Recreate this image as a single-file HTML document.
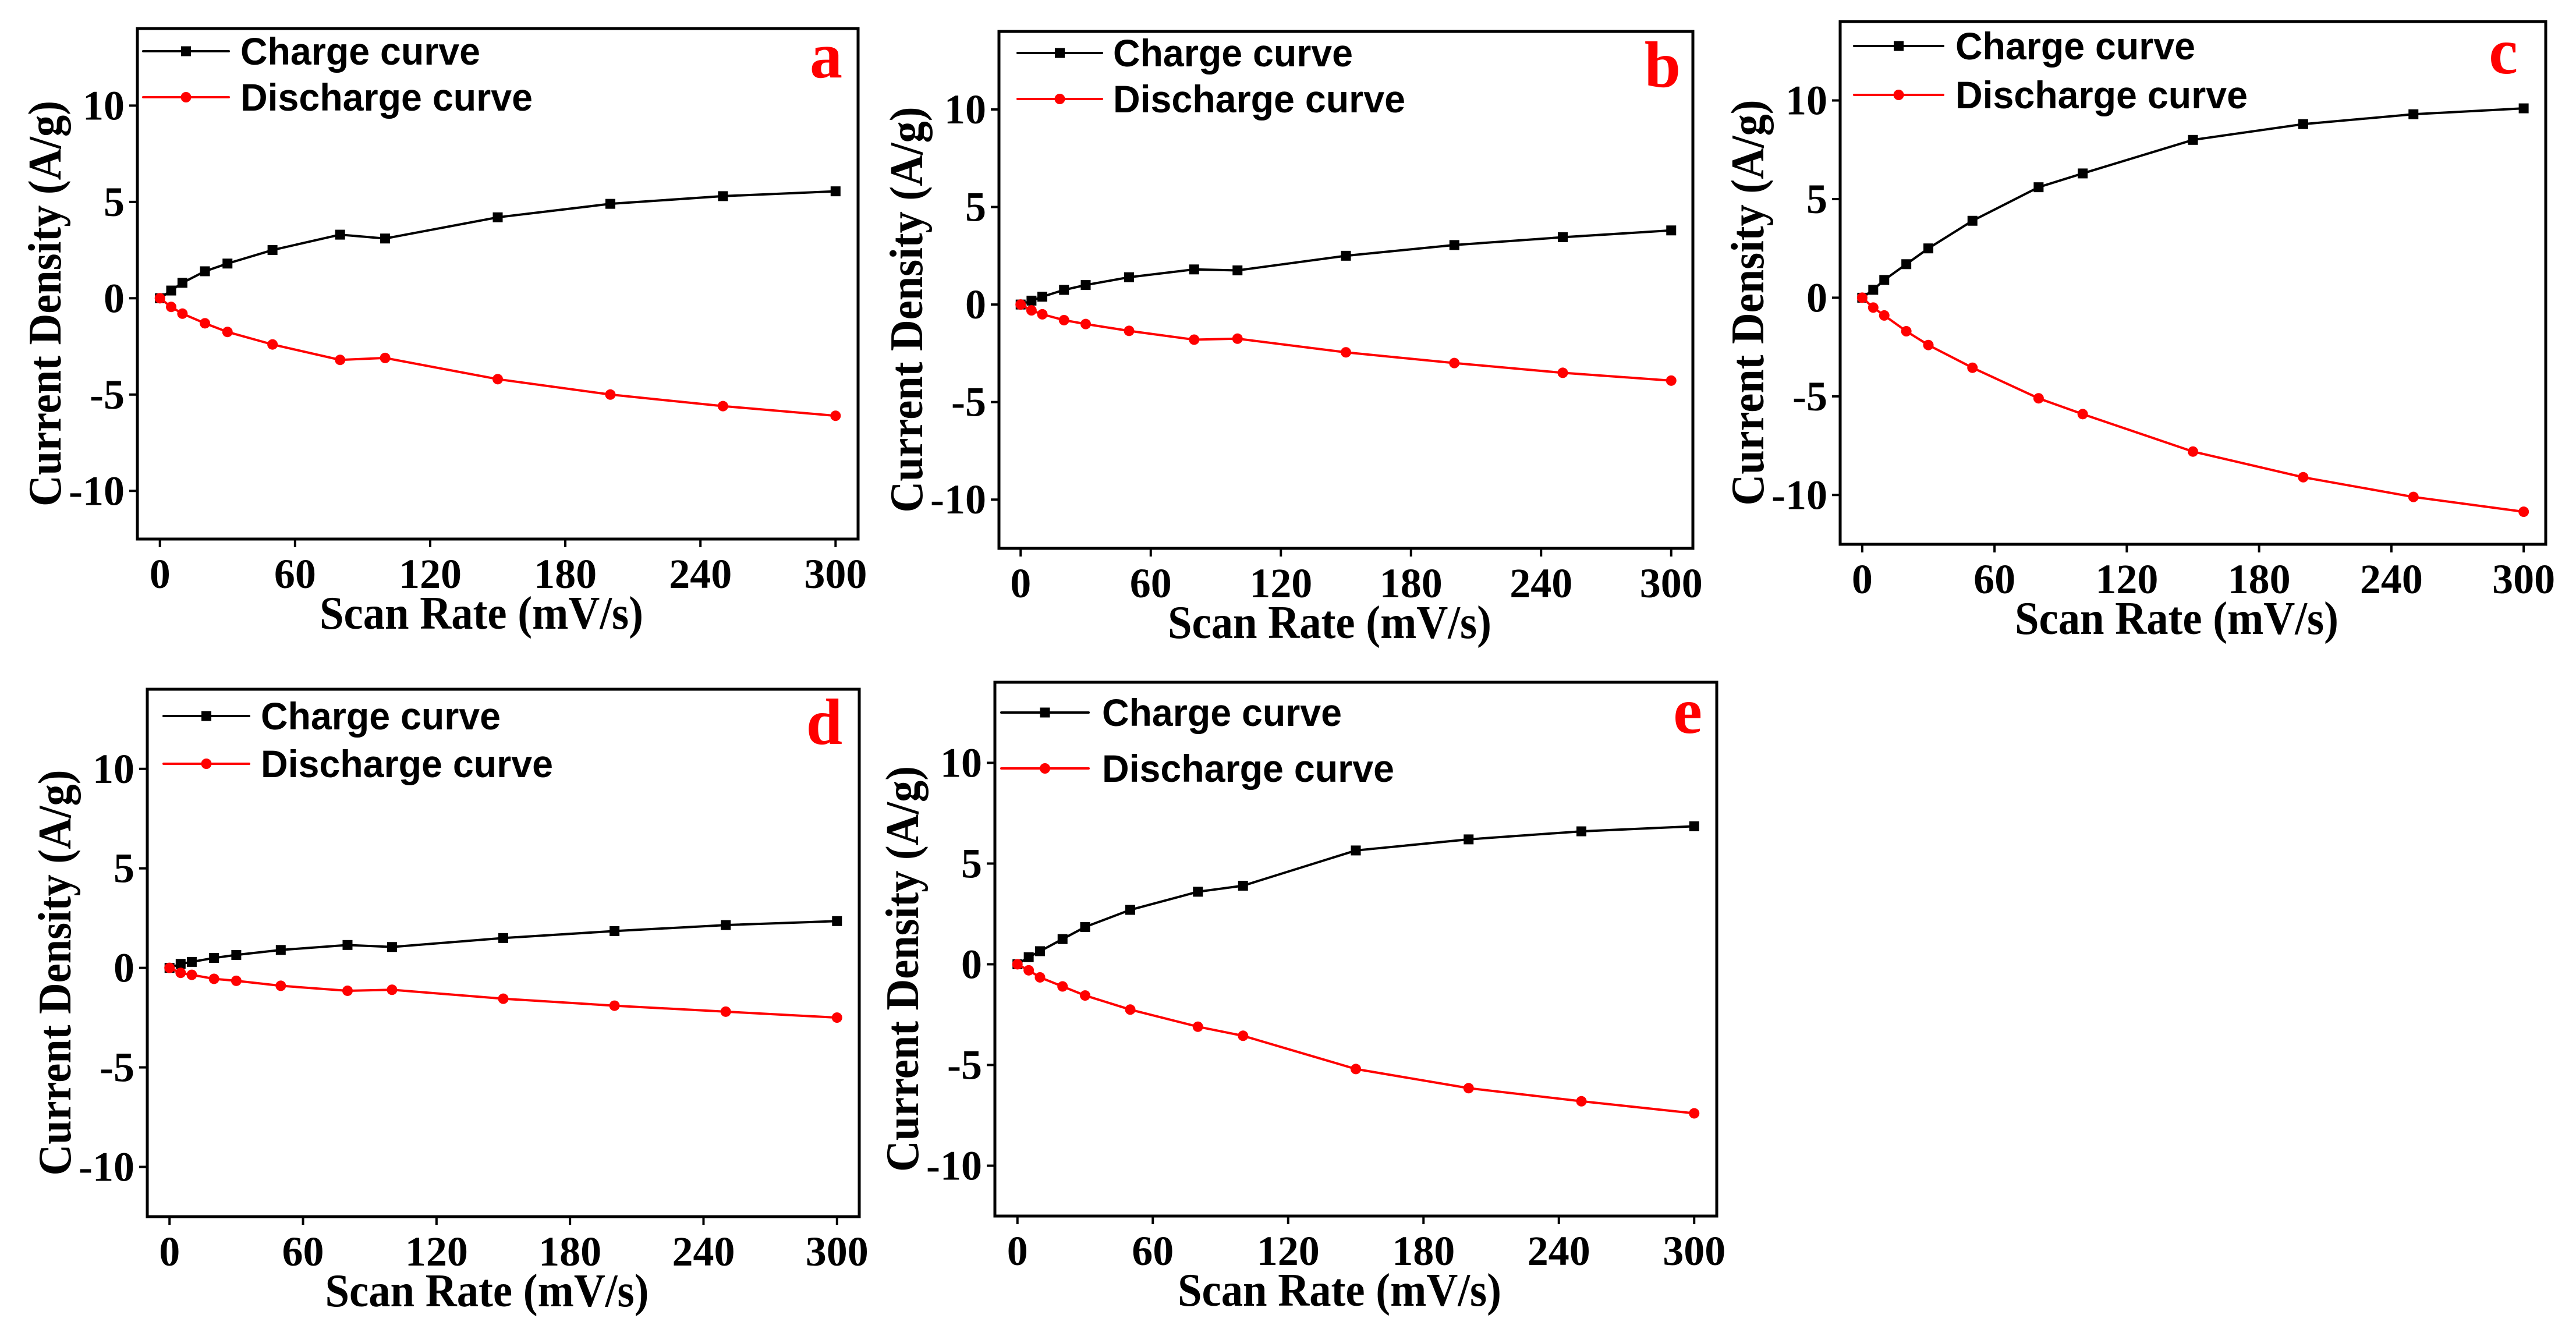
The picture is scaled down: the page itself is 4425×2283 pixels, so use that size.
<!DOCTYPE html>
<html><head><meta charset="utf-8">
<style>
html,body{margin:0;padding:0;background:#fff;}
svg{display:block;}
.tick{font-family:"Liberation Serif",serif;font-weight:bold;font-size:72px;fill:#000;}
.title{font-family:"Liberation Serif",serif;font-weight:bold;font-size:80px;fill:#000;}
.leg{font-family:"Liberation Sans Narrow","Liberation Sans",sans-serif;font-weight:bold;font-size:66px;fill:#000;}
.plab{font-family:"Liberation Serif",serif;font-weight:bold;font-size:112px;fill:#ff0000;}
</style></head>
<body>
<svg id="fig" width="4425" height="2283" viewBox="0 0 4425 2283" xmlns="http://www.w3.org/2000/svg"></svg>
<script>
const scanRates = [0,5,10,20,30,50,80,100,150,200,250,300];
const xTicks = [0,60,120,180,240,300];
const yTicks = [10,5,0,-5,-10];
const chargeA = [0,0.4,0.8,1.4,1.8,2.5,3.3,3.1,4.2,4.9,5.3,5.55];
const dischargeA = [0,-0.45,-0.8,-1.3,-1.75,-2.4,-3.2,-3.1,-4.2,-5.0,-5.6,-6.1];
const chargeB = [0,0.2,0.4,0.75,1.0,1.4,1.8,1.75,2.5,3.05,3.45,3.8];
const dischargeB = [0,-0.3,-0.5,-0.8,-1.0,-1.35,-1.8,-1.75,-2.45,-3.0,-3.5,-3.9];
const chargeC = [0,0.4,0.9,1.7,2.5,3.9,5.6,6.3,8.0,8.8,9.3,9.6];
const dischargeC = [0,-0.5,-0.9,-1.7,-2.4,-3.55,-5.1,-5.9,-7.8,-9.1,-10.1,-10.85];
const chargeD = [0,0.2,0.3,0.5,0.65,0.9,1.15,1.05,1.5,1.85,2.15,2.35];
const dischargeD = [0,-0.25,-0.35,-0.55,-0.65,-0.9,-1.15,-1.1,-1.55,-1.9,-2.2,-2.5];
const chargeE = [0,0.35,0.65,1.25,1.85,2.7,3.6,3.9,5.65,6.2,6.6,6.85];
const dischargeE = [0,-0.3,-0.65,-1.1,-1.55,-2.25,-3.1,-3.55,-5.2,-6.15,-6.8,-7.4];
const panelLetters = ['a','b','c','d','e'];

const NS='http://www.w3.org/2000/svg';
const svg=document.getElementById('fig');
function mk(tag,attrs,parent){const e=document.createElementNS(NS,tag);for(const k in attrs)e.setAttribute(k,attrs[k]);(parent||svg).appendChild(e);return e;}

const layouts=[
 {l:236,t:49,r:1474,b:926, leg:[246,393,413,88,167], lab:[1447,133]},
 {l:1716,t:54,r:2908,b:942, leg:[1748,1893,1912,91,170], lab:[2887,149]},
 {l:3161,t:37,r:4373,b:935, leg:[3185,3338,3359,79,163], lab:[4325,126]},
 {l:253,t:1184,r:1476,b:2090, leg:[281,428,448,1230,1312], lab:[1447,1278]},
 {l:1709,t:1172,r:2949,b:2089, leg:[1720,1870,1893,1224,1320], lab:[2924,1259]}
];
const series=[[chargeA,dischargeA],[chargeB,dischargeB],[chargeC,dischargeC],[chargeD,dischargeD],[chargeE,dischargeE]];

layouts.forEach((P,i)=>{
  const g=mk('g',{});
  
  
  const X=v=>P.l+(v+10)/320*(P.r-P.l);
  const Y=v=>P.t+(14-v)/26.5*(P.b-P.t);
  const frame=mk('rect',{x:P.l,y:P.t,width:P.r-P.l,height:P.b-P.t,fill:'none',stroke:'#000','stroke-width':5},g);
  
  
  xTicks.forEach(v=>{
    const x=X(v);
    mk('line',{x1:x,y1:P.b,x2:x,y2:P.b+14,stroke:'#000','stroke-width':4},g);
    const t=mk('text',{x:x,y:P.b+84,'text-anchor':'middle',class:'tick'},g);
    t.textContent=v;
    
    
  });
  yTicks.forEach(v=>{
    const y=Y(v);
    mk('line',{x1:P.l-14,y1:y,x2:P.l,y2:y,stroke:'#000','stroke-width':4},g);
    const t=mk('text',{x:P.l-22,y:y+24,'text-anchor':'end',class:'tick'},g);
    t.textContent=v;
    
    
  });
  const xt=mk('text',{x:(P.l+P.r)/2-28,y:P.b+154,'text-anchor':'middle',class:'title',textLength:556,lengthAdjust:'spacingAndGlyphs'},g);
  xt.textContent='Scan Rate (mV/s)';
  
  
  const cy=(P.t+P.b)/2+34, cx=P.l-132;
  const yt=mk('text',{x:cx,y:cy,'text-anchor':'middle',class:'title',transform:`rotate(-90 ${cx} ${cy})`,textLength:697,lengthAdjust:'spacingAndGlyphs'},g);
  yt.textContent='Current Density (A/g)';
  
  
  const [ch,dis]=series[i];
  const cpts=scanRates.map((s,k)=>X(s)+','+Y(ch[k])).join(' ');
  const dpts=scanRates.map((s,k)=>X(s)+','+Y(dis[k])).join(' ');
  const cl=mk('polyline',{points:cpts,fill:'none',stroke:'#000','stroke-width':4},g);
  
  
  scanRates.forEach((s,k)=>{
    const m=mk('rect',{x:X(s)-8.5,y:Y(ch[k])-8.5,width:17,height:17,fill:'#000'},g);
    
    
  });
  const dl=mk('polyline',{points:dpts,fill:'none',stroke:'#ff0000','stroke-width':4},g);
  
  
  scanRates.forEach((s,k)=>{
    const m=mk('circle',{cx:X(s),cy:Y(dis[k]),r:9,fill:'#ff0000'},g);
    
    
  });
  const L=P.leg;
  const lg=mk('g',{},g);
  
  
  const mid=(L[0]+L[1])/2;
  mk('line',{x1:L[0],y1:L[3],x2:L[1],y2:L[3],stroke:'#000','stroke-width':4,'stroke-linecap':'round'},lg);
  mk('rect',{x:mid-8.5,y:L[3]-8.5,width:17,height:17,fill:'#000'},lg);
  const t1=mk('text',{x:L[2],y:L[3]+23,class:'leg',textLength:412,lengthAdjust:'spacingAndGlyphs'},lg);
  t1.textContent='Charge curve';
  
  
  mk('line',{x1:L[0],y1:L[4],x2:L[1],y2:L[4],stroke:'#ff0000','stroke-width':4,'stroke-linecap':'round'},lg);
  mk('circle',{cx:mid,cy:L[4],r:9,fill:'#ff0000'},lg);
  const t2=mk('text',{x:L[2],y:L[4]+23,class:'leg',textLength:502,lengthAdjust:'spacingAndGlyphs'},lg);
  t2.textContent='Discharge curve';
  
  
  const pl=mk('text',{x:P.lab[0],y:P.lab[1],'text-anchor':'end',class:'plab'},g);
  pl.textContent=panelLetters[i];
  
  
});
</script>
</body></html>
